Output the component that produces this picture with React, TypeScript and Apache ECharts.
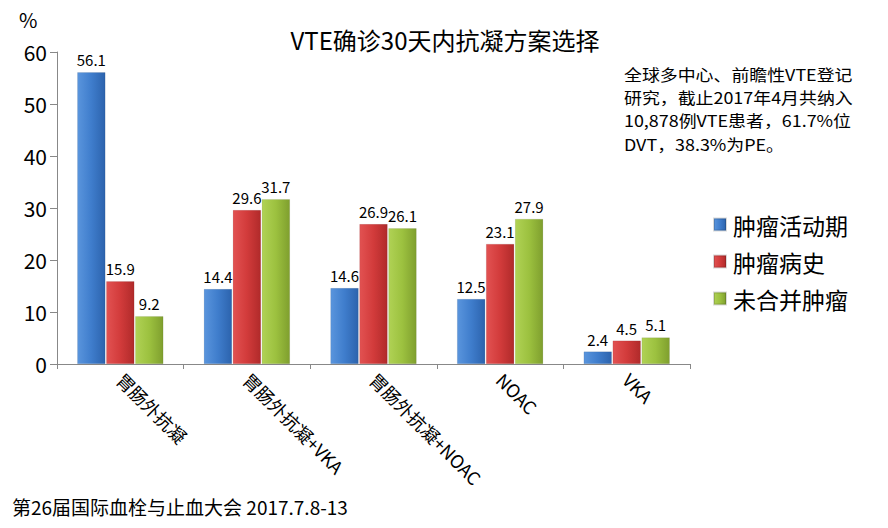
import React, { useEffect, useRef } from "react";
import * as echarts from "echarts";

const categories = ["胃肠外抗凝", "胃肠外抗凝+VKA", "胃肠外抗凝+NOAC", "NOAC", "VKA"];
const seriesNames = ["肿瘤活动期", "肿瘤病史", "未合并肿瘤"];
const activeCancer = [56.1, 14.4, 14.6, 12.5, 2.4];
const cancerHistory = [15.9, 29.6, 26.9, 23.1, 4.5];
const noCancer = [9.2, 31.7, 26.1, 27.9, 5.1];
const yTicks = [0, 10, 20, 30, 40, 50, 60];
const noteLines = [
  "全球多中心、前瞻性VTE登记",
  "研究，截止2017年4月共纳入",
  "10,878例VTE患者，61.7%位",
  "DVT，38.3%为PE。",
];

const FONT = "'Noto Sans CJK SC', 'Noto Sans', sans-serif";

const grad = (a: string, b: string, c: string) =>
  new echarts.graphic.LinearGradient(0, 0, 1, 0, [
    { offset: 0, color: a },
    { offset: 0.5, color: b },
    { offset: 1, color: c },
  ]);

export default function App() {
  const ref = useRef<HTMLDivElement>(null);
  useEffect(() => {
    if (!ref.current) return;
    const chart = echarts.init(ref.current, null, { renderer: "svg" });
    const colors = [
      { solid: "#3f7dcc", g: grad("#5a95dd", "#3f7dcc", "#2c63ad") },
      { solid: "#d23b3b", g: grad("#e25252", "#d23b3b", "#b02a2a") },
      { solid: "#9cc13f", g: grad("#b0d255", "#9cc13f", "#7f9f2e") },
    ];
    const dataSets = [activeCancer, cancerHistory, noCancer];
    chart.setOption({
      animation: false,
      textStyle: { fontFamily: FONT },
      title: {
        text: "VTE确诊30天内抗凝方案选择",
        left: 440,
        top: 22,
        textAlign: "center",
        textStyle: { fontSize: 24, fontWeight: "normal", color: "#000", fontFamily: FONT },
      },
      legend: {
        orient: "vertical",
        left: 708,
        top: 208,
        itemWidth: 12,
        itemHeight: 12,
        itemGap: 14,
        icon: "rect",
        data: seriesNames,
        textStyle: { fontSize: 23, color: "#000", fontFamily: FONT, padding: [0, 0, 0, 2] },
      },
      grid: { left: 57, top: 52, right: 198, bottom: 164, containLabel: false },
      xAxis: {
        type: "category",
        data: categories,
        axisLine: { lineStyle: { color: "#888", width: 1 } },
        axisTick: { show: true, length: 5, lineStyle: { color: "#888" } },
        axisLabel: {
          rotate: -45,
          fontSize: 18,
          color: "#000",
          fontFamily: FONT,
          margin: 12,
        },
      },
      yAxis: {
        type: "value",
        min: 0,
        max: 60,
        interval: 10,
        axisLine: { show: true, lineStyle: { color: "#888", width: 1 } },
        axisTick: { show: true, length: 7, lineStyle: { color: "#888" } },
        splitLine: { show: false },
        axisLabel: {
          fontSize: 21,
          color: "#000",
          fontFamily: FONT,
          margin: 10,
          formatter: (v: number) => (yTicks.includes(v) ? String(v) : ""),
        },
      },
      series: dataSets.map((d, i) => ({
        name: seriesNames[i],
        type: "bar",
        data: d,
        barGap: "3%",
        barCategoryGap: "32%",
        itemStyle: { color: colors[i].g, borderColor: "rgba(0,0,0,0.15)", borderWidth: 0.5 },
        label: {
          show: true,
          position: "top",
          distance: 5,
          fontSize: 15,
          color: "#000",
          fontFamily: FONT,
        },
      })),
      color: colors.map((c) => c.solid),
      graphic: [
        {
          type: "text",
          left: 19,
          top: 9,
          style: { text: "%", fontSize: 20, fill: "#000", fontFamily: FONT },
        },
        ...noteLines.map((t, i) => ({
          type: "text",
          x: 624,
          y: 66 + i * 23.2,
          scaleX: 1.12,
          style: { text: t, fontSize: 16, fill: "#000", fontFamily: FONT, textVerticalAlign: "top" },
        })),
        {
          type: "text",
          left: 12,
          top: 497,
          style: {
            text: "第26届国际血栓与止血大会 2017.7.8-13",
            fontSize: 19,
            fill: "#000",
            fontFamily: FONT,
          },
        },
      ],
    });
    return () => chart.dispose();
  }, []);
  return <div ref={ref} style={{ width: 888, height: 528, position: "absolute", left: 0, top: 0, background: "#fff" }} />;
}
